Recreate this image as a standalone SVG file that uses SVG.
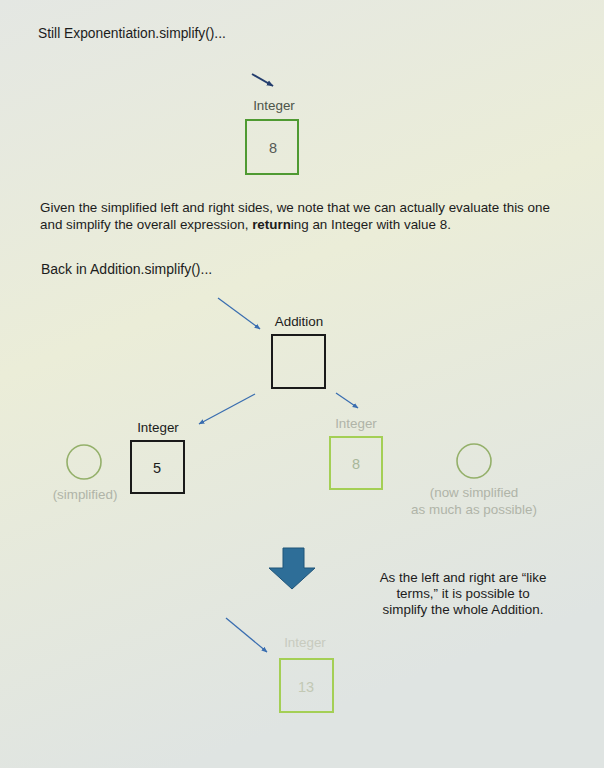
<svg xmlns="http://www.w3.org/2000/svg" width="604" height="768" viewBox="0 0 604 768">
<defs>
<linearGradient id="bg" x1="0" y1="0" x2="0.3" y2="1">
<stop offset="0" stop-color="#e4e7e3"/>
<stop offset="0.45" stop-color="#ebedd8"/>
<stop offset="1" stop-color="#dfe4e2"/>
</linearGradient>
<marker id="ahd" viewBox="0 0 10 10" refX="9" refY="5" markerWidth="7" markerHeight="7" orient="auto" markerUnits="userSpaceOnUse">
<path d="M0,1 L10,5 L0,9 z" fill="#243e6e"/>
</marker>
<marker id="ahb" viewBox="0 0 10 10" refX="9" refY="5" markerWidth="6" markerHeight="6" orient="auto" markerUnits="userSpaceOnUse">
<path d="M0,1 L10,5 L0,9 z" fill="#3a6eb0"/>
</marker>
</defs>
<style>
text{font-family:"Liberation Sans",Arial,sans-serif;font-size:13.4px;fill:#1c1c1c}
.c{text-anchor:middle}
.num{font-size:14.5px}
.faint{fill:#b0b4a8}
.grn{fill:#a8b79a}
.box{fill:none;stroke:#1a1a1a;stroke-width:2}
.gbox{fill:none;stroke:#4f9a32;stroke-width:2}
.lgbox{fill:none;stroke:#a4cf55;stroke-width:2}
.circ{fill:none;stroke:#94b06a;stroke-width:1.6}
.conn{stroke:#3a6eb0;stroke-width:1.3;fill:none}
</style>
<rect width="604" height="768" fill="url(#bg)"/>

<text x="38" y="38" style="font-size:13.8px">Still Exponentiation.simplify()...</text>

<g id="connectors">
<line x1="252" y1="74" x2="273" y2="86" stroke="#243e6e" stroke-width="2" marker-end="url(#ahd)"/>
<line x1="218" y1="298" x2="260" y2="329" class="conn" marker-end="url(#ahb)"/>
<line x1="255" y1="394" x2="199" y2="424" class="conn" marker-end="url(#ahb)"/>
<line x1="336" y1="393" x2="358" y2="408" class="conn" marker-end="url(#ahb)"/>
<line x1="226" y1="618" x2="267" y2="652" class="conn" marker-end="url(#ahb)"/>
</g>

<g id="int8top">
<text x="274" y="110" class="c" style="fill:#4d554a">Integer</text>
<rect x="246" y="120" width="52" height="54" class="gbox"/>
<text x="273" y="153" class="c num" style="fill:#555a55">8</text>
</g>

<text x="40" y="212">Given the simplified left and right sides, we note that we can actually evaluate this one</text>
<text x="40" y="229">and simplify the overall expression, <tspan font-weight="bold">return</tspan>ing an Integer with value 8.</text>

<text x="41" y="274" style="font-size:14px">Back in Addition.simplify()...</text>

<g id="addition">
<text x="299" y="326" class="c">Addition</text>
<rect x="272" y="335" width="53" height="53" class="box"/>
</g>

<g id="int5">
<text x="158" y="432" class="c">Integer</text>
<rect x="131" y="441" width="53" height="52" class="box"/>
<text x="157" y="473" class="c num">5</text>
</g>

<g id="simplifiedLeft">
<circle cx="84" cy="462" r="17" class="circ"/>
<text x="85" y="499" class="c faint">(simplified)</text>
</g>

<g id="int8right">
<text x="356" y="428" class="c faint">Integer</text>
<rect x="330" y="437" width="52" height="52" class="lgbox"/>
<text x="356" y="469" class="c num grn">8</text>
</g>

<g id="simplifiedRight">
<circle cx="474" cy="461" r="17" class="circ"/>
<text x="474" y="497" class="c faint">(now simplified</text>
<text x="474" y="514" class="c faint">as much as possible)</text>
</g>

<g id="blockArrow">
<path d="M283,548 L304,548 L304,568 L315,568 L292,589 L269,568 L283,568 Z" fill="#2e6e98" stroke="#1f5478" stroke-width="1"/>
</g>

<g id="note">
<text x="463" y="582" class="c">As the left and right are “like</text>
<text x="463" y="598" class="c">terms,” it is possible to</text>
<text x="463" y="614" class="c">simplify the whole Addition.</text>
</g>

<g id="int13">
<text x="305" y="647" class="c" style="fill:#c8cbbf">Integer</text>
<rect x="280" y="659" width="53" height="53" class="lgbox"/>
<text x="306" y="692" class="c num" style="fill:#c2c8b4">13</text>
</g>
</svg>
